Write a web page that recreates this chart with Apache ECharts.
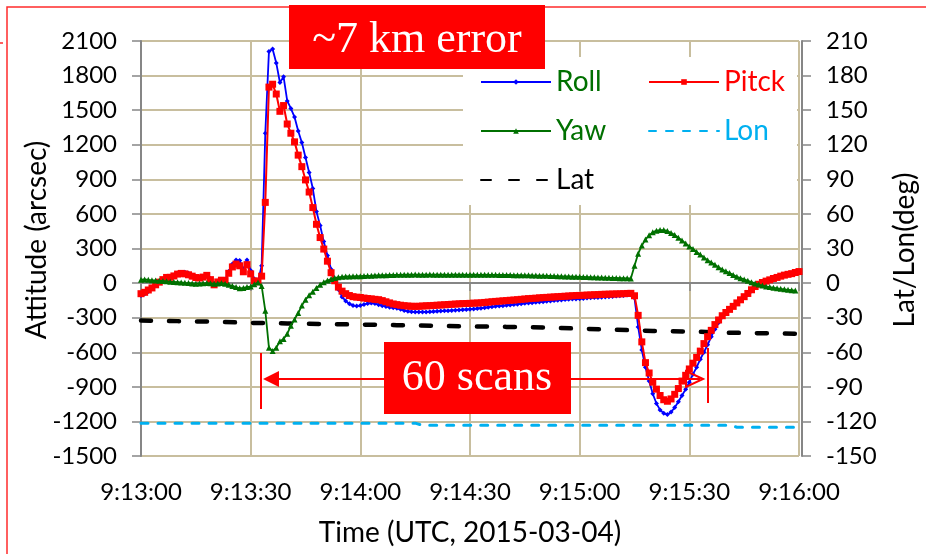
<!DOCTYPE html>
<html><head><meta charset="utf-8">
<script src="https://cdn.jsdelivr.net/npm/echarts@6/dist/echarts.min.js"></script>
<style>html,body{margin:0;padding:0;background:#fff}#c{width:926px;height:554px}</style>
</head><body><div id="c"></div>
<script>
// ---- data (time in seconds after 9:13:00, 1 s sampling) ----
const xTicks = ['9:13:00','9:13:30','9:14:00','9:14:30','9:15:00','9:15:30','9:16:00'];
const roll = [-108,-95,-72,-50,-22,5,28,50,55,68,85,92,95,85,68,55,50,58,72,40,-8,15,30,30,100,165,200,195,120,200,110,35,15,150,1300,2010,2030,1910,1740,1790,1580,1515,1440,1320,1220,1090,960,820,620,500,360,240,120,35,-55,-120,-155,-180,-195,-198,-195,-185,-178,-173,-178,-188,-196,-203,-209,-214,-218,-228,-238,-245,-249,-251,-251,-251,-250,-249,-247,-245,-243,-241,-239,-237,-235,-233,-231,-229,-227,-224,-221,-218,-214,-210,-206,-202,-199,-196,-193,-190,-186,-183,-180,-176,-173,-170,-167,-164,-161,-158,-155,-152,-149,-146,-143,-141,-139,-137,-135,-133,-130,-128,-126,-124,-122,-120,-118,-116,-113,-110,-107,-104,-101,-130,-380,-580,-730,-850,-960,-1045,-1100,-1130,-1141,-1118,-1080,-1030,-975,-920,-860,-790,-730,-660,-600,-535,-465,-400,-345,-295,-262,-232,-205,-178,-152,-125,-98,-68,-38,-16,-2,12,24,36,47,58,67,75,83,93,104];
const pitck = [-92,-80,-60,-42,-15,8,30,49,50,62,78,84,80,72,60,48,44,52,67,30,-15,10,25,22,85,140,165,150,98,160,80,20,12,60,700,1700,1725,1640,1490,1540,1380,1300,1225,1110,1010,895,790,655,510,395,295,190,90,20,-35,-70,-92,-108,-118,-122,-125,-130,-134,-137,-141,-144,-152,-162,-172,-181,-187,-192,-196,-199,-201,-202,-201,-199,-197,-196,-194,-192,-190,-188,-186,-184,-182,-180,-178,-177,-176,-174,-173,-171,-168,-165,-162,-159,-157,-154,-152,-149,-147,-144,-141,-138,-135,-133,-131,-128,-126,-124,-122,-120,-118,-116,-114,-112,-110,-108,-107,-106,-104,-103,-101,-100,-98,-97,-96,-95,-94,-93,-92,-90,-89,-110,-280,-510,-690,-780,-860,-920,-975,-1012,-1025,-1005,-965,-915,-850,-800,-745,-695,-645,-590,-525,-465,-410,-360,-320,-283,-255,-228,-202,-172,-145,-118,-90,-58,-30,-10,5,17,28,40,49,60,69,76,82,92,100];
const yaw = [30,32,28,25,22,20,18,15,12,10,8,5,2,0,-3,-5,-3,-2,0,-2,-5,-3,0,-5,-15,-25,-35,-45,-42,-35,-30,-10,5,-25,-240,-560,-590,-560,-505,-485,-440,-370,-315,-260,-195,-145,-105,-75,-42,-15,8,22,35,45,50,54,57,58,59,60,60,62,63,64,66,67,68,69,70,71,72,72,73,73,73,74,73,73,73,74,73,73,73,73,72,73,73,73,73,72,73,73,72,72,73,72,72,72,71,71,70,70,69,69,68,67,67,66,65,64,64,63,62,61,60,59,58,57,56,55,54,53,52,51,50,49,48,47,46,45,44,43,42,41,40,150,255,325,378,415,440,455,460,460,452,435,418,393,370,343,318,295,270,247,222,198,178,158,138,118,103,87,71,55,43,32,20,8,-3,-13,-22,-29,-35,-40,-45,-50,-54,-58,-62,-65];
const latTimes = [0,10,20,30,40,50,60,70,80,90,100,110,120,130,140,150,160,170,180];
const lat = [-32.5,-33,-33.5,-34.5,-35,-35.5,-36,-36.5,-37,-37.5,-38,-38.5,-39.5,-40.5,-41.5,-42,-43,-43.5,-44];
const lonTimes = [0,75,77,161,163,180];
const lon = [-121.5,-121.5,-123.3,-123.3,-125,-125];

const seconds = roll.map((_, i) => i);
const pair = (ts, vs) => vs.map((v, i) => [ts[i], v]);
const fmtTime = v => { const m = 13 + Math.floor(v / 60), s = v % 60; return '9:' + m + ':' + (s < 10 ? '0' : '') + s; };
const fmtNum = v => String(v);

const FONT = 'Lato';
const GRIDC = '#C8BE9E';
const AXC = '#868686';

const chart = echarts.init(document.getElementById('c'), null, {renderer: 'canvas'});
chart.setOption({
  animation: false,
  backgroundColor: '#fff',
  grid: {left: 141, right: 127, top: 41, bottom: 98, containLabel: false},
  xAxis: {
    type: 'value', min: 0, max: 180, interval: 30,
    name: 'Time (UTC, 2015-03-04)', nameLocation: 'middle', nameGap: 63,
    nameTextStyle: {fontFamily: FONT, fontSize: 28, color: '#000'},
    axisLine: {lineStyle: {color: AXC, width: 2}},
    axisTick: {show: true, length: 8, lineStyle: {color: AXC, width: 1.5}},
    axisLabel: {formatter: fmtTime, fontFamily: FONT, fontSize: 24, color: '#000', margin: 24},
    splitLine: {show: true, lineStyle: {color: GRIDC, width: 2}}
  },
  yAxis: [{
    type: 'value', min: -1500, max: 2100, interval: 300,
    axisLine: {show: true, lineStyle: {color: AXC, width: 2}},
    axisTick: {show: true, length: 9, lineStyle: {color: AXC, width: 1.5}},
    axisLabel: {formatter: fmtNum, fontFamily: FONT, fontSize: 24, color: '#000', margin: 24},
    splitLine: {show: true, lineStyle: {color: GRIDC, width: 2}}
  }, {
    type: 'value', min: -150, max: 210, interval: 30, position: 'right', offset: 3,
    axisLine: {show: true, lineStyle: {color: AXC, width: 2}},
    axisTick: {show: true, length: 9, lineStyle: {color: AXC, width: 1.5}},
    axisLabel: {formatter: fmtNum, fontFamily: FONT, fontSize: 24, color: '#000', margin: 24},
    splitLine: {show: false}
  }],
  legend: [{
    orient: 'vertical', left: 480, top: 68, padding: 0, itemGap: 21,
    itemWidth: 70, itemHeight: 7, selectedMode: false,
    textStyle: {fontFamily: FONT, fontSize: 28, lineHeight: 28},
    data: [{name: 'Roll', textStyle: {color: '#007000'}},
           {name: 'Yaw', textStyle: {color: '#007000'}},
           {name: 'Lat', textStyle: {color: '#000'}, itemStyle: {opacity: 0}}]
  }, {
    orient: 'vertical', left: 648, top: 68, padding: 0, itemGap: 21,
    itemWidth: 70, itemHeight: 7, selectedMode: false,
    textStyle: {fontFamily: FONT, fontSize: 28, lineHeight: 28},
    data: [{name: 'Pitck', textStyle: {color: '#FF0000'}},
           {name: 'Lon', textStyle: {color: '#00B0F0'}, itemStyle: {opacity: 0}}]
  }],
  series: [
    {name: 'Lat', type: 'line', yAxisIndex: 1, data: pair(latTimes, lat), symbol: 'none',
     lineStyle: {color: '#000', width: 4.5, type: [10, 18], cap: 'round'}, itemStyle: {color: '#000'}, z: 2},
    {name: 'Lon', type: 'line', yAxisIndex: 1, data: pair(lonTimes, lon), symbol: 'none',
     lineStyle: {color: '#00B0F0', width: 3, type: [7, 10], cap: 'round'}, itemStyle: {color: '#00B0F0'}, z: 2},
    {name: 'Roll', type: 'line', data: pair(seconds, roll), symbol: 'diamond', symbolSize: 5, showAllSymbol: true,
     lineStyle: {color: '#0000FF', width: 1.8}, itemStyle: {color: '#0000FF'}, z: 3},
    {name: 'Pitck', type: 'line', data: pair(seconds, pitck), symbol: 'rect', symbolSize: 7, showAllSymbol: true,
     lineStyle: {color: '#FF0000', width: 2}, itemStyle: {color: '#FF0000'}, z: 4},
    {name: 'Yaw', type: 'line', data: pair(seconds, yaw), symbol: 'triangle', symbolSize: 6, showAllSymbol: true,
     lineStyle: {color: '#007000', width: 1.8}, itemStyle: {color: '#007000'}, z: 5}
  ],
  graphic: [
    {type: 'polyline', z: 100, shape: {points: [[7, 554], [7, 7], [926, 7]]}, style: {stroke: '#FF2B2B', lineWidth: 1.5, fill: null}},
    {type: 'line', z: 100, shape: {x1: 0, y1: 43, x2: 3, y2: 43}, style: {stroke: '#FF2B2B', lineWidth: 1.5}},
    {type: 'rect', z: 3, shape: {x: 463, y: 57, width: 334, height: 148}, style: {fill: '#fff'}},
    {type: 'text', z: 100, x: 37, y: 240, rotation: Math.PI / 2,
     style: {text: 'Attitude (arcsec)', fontFamily: FONT, fontSize: 28, fill: '#000', align: 'center', verticalAlign: 'middle'}},
    {type: 'text', z: 100, x: 905, y: 250, rotation: Math.PI / 2,
     style: {text: 'Lat/Lon(deg)', fontFamily: FONT, fontSize: 28, fill: '#000', align: 'center', verticalAlign: 'middle'}},
    {type: 'rect', z: 100, shape: {x: 289, y: 5, width: 256, height: 64}, style: {fill: '#FF0000'}},
    {type: 'text', z: 101, x: 417, y: 40,
     style: {text: '~7 km error', fontFamily: 'Liberation Serif', fontSize: 44, fill: '#fff', align: 'center', verticalAlign: 'middle'}},
    {type: 'line', z: 100, shape: {x1: 261, y1: 353, x2: 261, y2: 409}, style: {stroke: '#FF0000', lineWidth: 2}},
    {type: 'line', z: 100, shape: {x1: 708, y1: 348, x2: 708, y2: 403}, style: {stroke: '#FF0000', lineWidth: 2}},
    {type: 'line', z: 100, shape: {x1: 270, y1: 379, x2: 700, y2: 379}, style: {stroke: '#FF0000', lineWidth: 2}},
    {type: 'polygon', z: 100, shape: {points: [[263, 379], [279, 371], [279, 387]]}, style: {fill: '#FF0000'}},
    {type: 'polygon', z: 100, shape: {points: [[703, 379], [686, 371], [686, 387]]}, style: {stroke: '#FF0000', lineWidth: 2, fill: null}},
    {type: 'rect', z: 101, shape: {x: 384, y: 342, width: 187, height: 72}, style: {fill: '#FF0000'}},
    {type: 'text', z: 102, x: 477, y: 378,
     style: {text: '60 scans', fontFamily: 'Liberation Serif', fontSize: 44, fill: '#fff', align: 'center', verticalAlign: 'middle'}}
  ]
});
</script></body></html>
